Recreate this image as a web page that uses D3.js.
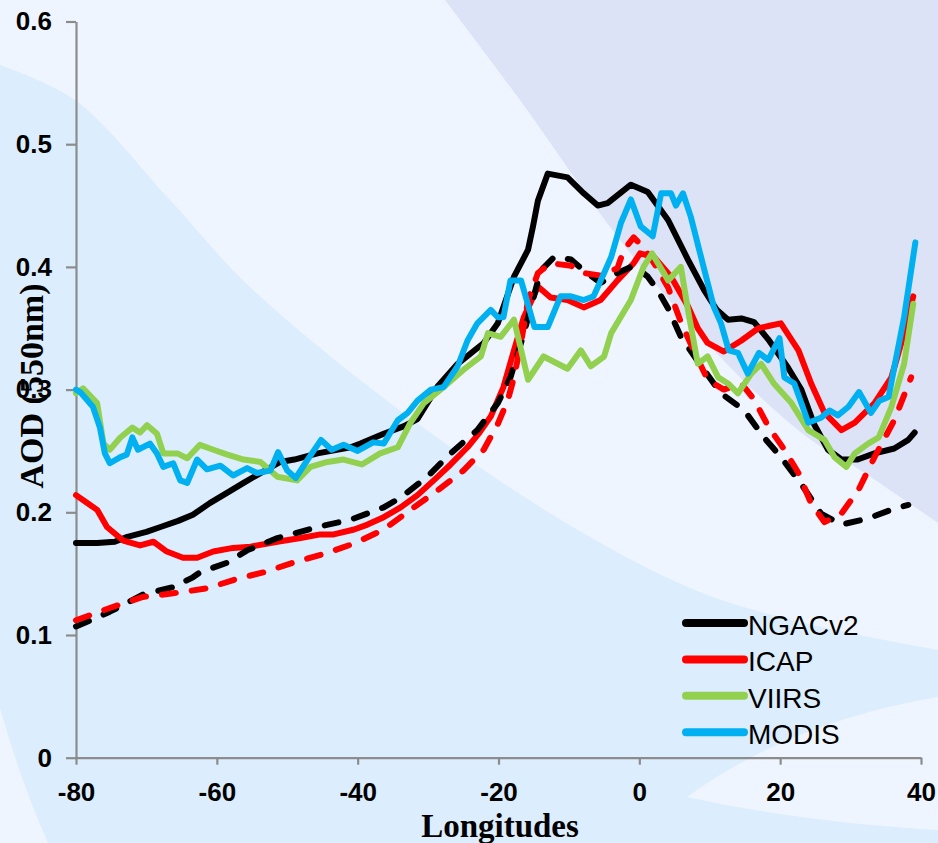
<!DOCTYPE html>
<html>
<head>
<meta charset="utf-8">
<script src="https://cdn.jsdelivr.net/npm/d3@7"></script>
<style>
  body { margin: 0; background: #eff5fe; }
  svg { display: block; }
</style>
</head>
<body>
<div id="chart"></div>
<script>
// longitude / AOD pairs
var ngacSolid = [[-80,0.175],[-77,0.175],[-74.5,0.176],[-72.7,0.180],[-70,0.184],[-68,0.188],[-65.5,0.193],[-63.4,0.198],[-61,0.2075],[-58.5,0.216],[-56.2,0.224],[-53.8,0.232],[-51,0.241],[-49,0.243],[-45.7,0.248],[-41,0.253],[-39.6,0.256],[-36.3,0.264],[-33.5,0.270],[-31.5,0.276],[-28.6,0.303],[-25.8,0.321],[-22.1,0.338],[-20.1,0.354],[-17.8,0.392],[-15.8,0.414],[-15.1,0.433],[-14.4,0.454],[-13,0.476],[-10.2,0.473],[-7.9,0.460],[-5.9,0.450],[-4.5,0.452],[-1.2,0.467],[1.2,0.461],[4.1,0.438],[6.9,0.406],[9.2,0.381],[11,0.365],[12.6,0.357],[14.5,0.358],[16.3,0.355],[18.3,0.341],[21.1,0.318],[23,0.300],[24.8,0.272],[26.8,0.251],[28.7,0.243],[31,0.243],[33.4,0.248],[36.2,0.252],[38.2,0.259],[39.1,0.265]];
var icapSolid = [[-80,0.214],[-78.5,0.208],[-77,0.202],[-75.6,0.188],[-73.3,0.177],[-70.9,0.173],[-69,0.176],[-67.1,0.168],[-64.8,0.163],[-62.8,0.163],[-60.5,0.168],[-57.7,0.171],[-55.2,0.172],[-51.4,0.176],[-48.1,0.179],[-45.3,0.182],[-43.4,0.182],[-40.5,0.186],[-38.6,0.190],[-36.3,0.196],[-33.9,0.204],[-31.5,0.214],[-29.2,0.226],[-26.8,0.239],[-24.4,0.253],[-22.7,0.265],[-21.1,0.278],[-19.3,0.302],[-17.8,0.332],[-16.4,0.359],[-14.4,0.384],[-12.6,0.375],[-10.2,0.373],[-7.9,0.367],[-5.5,0.373],[-3.1,0.389],[-0.8,0.403],[0.1,0.411],[2.1,0.408],[4.5,0.392],[6.9,0.368],[8.3,0.350],[9.7,0.338],[12,0.331],[14.5,0.340],[16.9,0.350],[18.5,0.352],[20.1,0.354],[22.6,0.332],[24.4,0.305],[26.3,0.281],[28.7,0.267],[30.6,0.273],[33.4,0.289],[35.8,0.310],[37.6,0.346],[38.9,0.376]];
var ngacDashed = [[-80,0.107],[-77.5,0.113],[-75.2,0.119],[-72.8,0.126],[-70.5,0.133],[-66.2,0.139],[-63.4,0.147],[-62.4,0.151],[-58.5,0.159],[-55.7,0.169],[-51.4,0.179],[-45.7,0.188],[-41,0.194],[-36.3,0.204],[-33.9,0.212],[-30.1,0.229],[-26.8,0.248],[-23,0.267],[-20.1,0.289],[-18.3,0.310],[-16.8,0.338],[-15.4,0.367],[-14,0.397],[-12.1,0.408],[-9.7,0.406],[-7.9,0.397],[-5.5,0.387],[-3.1,0.395],[-0.8,0.401],[1.2,0.392],[2.6,0.381],[4.1,0.366],[5.9,0.343],[8.8,0.319],[11.6,0.297],[14.9,0.283],[17.7,0.261],[20.1,0.245],[23,0.223],[25.8,0.199],[28.7,0.190],[32.5,0.195],[36.2,0.203],[38.2,0.206]];
var icapDashed = [[-80,0.112],[-75.2,0.122],[-70.5,0.131],[-66.2,0.134],[-61.4,0.138],[-57,0.146],[-53.4,0.151],[-49.1,0.159],[-44.3,0.167],[-40.3,0.175],[-36.3,0.186],[-32.5,0.202],[-28.6,0.218],[-25,0.234],[-22.1,0.251],[-20.1,0.272],[-18.7,0.291],[-17.8,0.310],[-16.8,0.338],[-15.8,0.373],[-14.4,0.395],[-12.6,0.403],[-9.7,0.401],[-7.9,0.395],[-5.5,0.393],[-3.1,0.399],[-2.2,0.414],[-0.8,0.424],[0.6,0.416],[2.1,0.403],[4.1,0.383],[5.9,0.355],[7.8,0.331],[9.7,0.308],[12,0.300],[14.5,0.305],[16.3,0.292],[18.3,0.270],[20.6,0.251],[22.6,0.232],[24.4,0.207],[26.3,0.192],[28.7,0.199],[31.1,0.218],[33.4,0.245],[36.2,0.275],[38.6,0.310]];
var viirs = [[-80,0.297],[-79,0.301],[-77,0.289],[-76.1,0.256],[-75.2,0.251],[-73.7,0.261],[-72,0.269],[-70.9,0.265],[-69.9,0.271],[-68.5,0.264],[-67.6,0.248],[-65.6,0.248],[-64.2,0.244],[-62.4,0.255],[-60.5,0.251],[-58.5,0.247],[-56.2,0.243],[-53.8,0.241],[-51.4,0.229],[-48.6,0.226],[-46.7,0.237],[-44.3,0.241],[-42,0.243],[-39.4,0.239],[-36.8,0.248],[-34.3,0.253],[-32.5,0.273],[-30.6,0.289],[-27.8,0.302],[-25,0.316],[-22.5,0.327],[-21.5,0.346],[-19.7,0.343],[-17.8,0.357],[-15.8,0.308],[-13.6,0.327],[-10.2,0.317],[-8.3,0.332],[-6.9,0.319],[-5,0.327],[-4,0.346],[-1.2,0.373],[0.6,0.400],[1.8,0.411],[4.1,0.389],[5.9,0.400],[6.9,0.365],[8.3,0.321],[9.7,0.327],[11.2,0.310],[12.6,0.305],[14,0.297],[15.9,0.313],[17.3,0.321],[19.1,0.305],[21.6,0.289],[24,0.267],[26.3,0.259],[27.7,0.245],[29.4,0.237],[30.6,0.248],[32.5,0.256],[34,0.261],[35.8,0.286],[37.6,0.321],[38.9,0.370]];
var modis = [[-80,0.300],[-79.4,0.298],[-77.6,0.286],[-76.6,0.269],[-75.9,0.248],[-75.2,0.240],[-73.7,0.245],[-72.8,0.247],[-72,0.261],[-71.2,0.251],[-69.5,0.256],[-68.5,0.248],[-67.6,0.237],[-66.2,0.240],[-65.2,0.226],[-64.2,0.224],[-62.8,0.243],[-61.4,0.235],[-59.5,0.238],[-57.7,0.230],[-55.7,0.236],[-54.3,0.232],[-52.4,0.234],[-51.3,0.249],[-50,0.234],[-48.8,0.228],[-47.1,0.243],[-45.2,0.259],[-43.7,0.251],[-42,0.255],[-40,0.250],[-37.8,0.257],[-36.3,0.256],[-34.3,0.275],[-32.9,0.281],[-31.5,0.291],[-29.6,0.300],[-27.8,0.302],[-25.8,0.319],[-24.4,0.340],[-23,0.354],[-21.1,0.365],[-20.1,0.359],[-19.3,0.359],[-18.3,0.389],[-16.8,0.389],[-14.9,0.351],[-13,0.351],[-11.2,0.376],[-9.7,0.376],[-7.9,0.373],[-6.5,0.376],[-5,0.395],[-4,0.408],[-2.6,0.436],[-1.2,0.455],[0.2,0.433],[1.9,0.425],[3.1,0.460],[4.5,0.460],[5.2,0.450],[6.2,0.460],[7.3,0.441],[8.5,0.414],[9.7,0.387],[10.6,0.367],[11.6,0.354],[12.7,0.332],[14,0.330],[15.4,0.313],[17,0.330],[18.3,0.324],[19.9,0.342],[20.6,0.310],[22,0.305],[23,0.289],[24,0.273],[25.8,0.277],[27,0.283],[28.2,0.279],[29.7,0.286],[31.2,0.298],[32.9,0.281],[34.1,0.291],[35.4,0.294],[36.2,0.318],[37.6,0.359],[39.2,0.420]];

var xTicks = [-80, -60, -40, -20, 0, 20, 40];
var yTicks = [0, 0.1, 0.2, 0.3, 0.4, 0.5, 0.6];
var legendNames = ["NGACv2", "ICAP", "VIIRS", "MODIS"];
var legendColors = ["#000000", "#ff0000", "#92d050", "#00b0f0"];

var W = 938, H = 843;

var svg = d3.select('#chart').append('svg')
    .attr("width", W)
    .attr("height", H);

// slide background
svg.append("rect").attr("width", W).attr("height", H).attr("fill", "#eff5fe");

var bgCurve = d3.line().curve(d3.curveCatmullRom);

// light blue sweep on the lower left
var blueEdge = [[0,65],[75,100],[170,200],[250,287],[417,423],[583,533],[700,592],[800,622],[938,650]];
svg.append("path")
    .attr("d", bgCurve(blueEdge) + "L938,843L0,843Z")
    .attr("fill", "#dcedfd");

// lavender band top right
var purpleEdge = [[445,0],[520,100],[620,240],[723,360],[807,437],[860,470],[938,523]];
svg.append("path")
    .attr("d", bgCurve(purpleEdge) + "L938,0Z")
    .attr("fill", "#dde3f7");

// white swooshes
svg.append("path")
    .attr("d", "M0,708 Q20,780 48,843 L0,843Z")
    .attr("fill", "#eff5fe");
svg.append("path")
    .attr("d", "M687,797 Q790,722 938,697 L938,830 Q800,822 687,797Z")
    .attr("fill", "#eff5fe");

// scales
var x = d3.scaleLinear().domain([-80, 40]).range([76, 921]);
var y = d3.scaleLinear().domain([0, 0.6]).range([757.7, 21.5]);

// axes
var yAxis = svg.append("g")
    .attr("transform", "translate(" + x(-80) + ",0)")
    .call(d3.axisLeft(y).tickValues(yTicks).tickSize(10).tickSizeOuter(0).tickPadding(14)
        .tickFormat(function(d) { return d === 0 ? "0" : d.toFixed(1); }));

var xAxis = svg.append("g")
    .attr("transform", "translate(0," + y(0) + ")")
    .call(d3.axisBottom(x).tickValues(xTicks).tickSize(7).tickSizeOuter(0).tickPadding(18)
        .tickFormat(function(d) { return String(d); }));

[xAxis, yAxis].forEach(function(g) {
    g.select(".domain").attr("stroke", "#8c8c8c").attr("stroke-width", 2.2);
    g.selectAll(".tick line").attr("stroke", "#8c8c8c").attr("stroke-width", 2.2);
    g.selectAll(".tick text")
        .attr("font-family", "Arial, 'Liberation Sans', sans-serif")
        .attr("font-weight", "bold")
        .attr("font-size", "26px")
        .attr("fill", "#000");
});

// axis titles
svg.append("text")
    .attr("x", 500).attr("y", 837)
    .attr("text-anchor", "middle")
    .attr("font-family", "'Times New Roman', 'Liberation Serif', serif")
    .attr("font-weight", "bold")
    .attr("font-size", "33px")
    .text("Longitudes");

svg.append("text")
    .attr("transform", "translate(43,386) rotate(-90)")
    .attr("text-anchor", "middle")
    .attr("font-family", "'Times New Roman', 'Liberation Serif', serif")
    .attr("font-weight", "bold")
    .attr("font-size", "34px")
    .text("AOD (550nm)");

// series lines
var line = d3.line()
    .x(function(d) { return x(d[0]); })
    .y(function(d) { return y(d[1]); });

var series = [
    { data: ngacSolid, color: legendColors[0], dash: null },
    { data: icapSolid, color: legendColors[1], dash: null },
    { data: ngacDashed, color: legendColors[0], dash: "14,16" },
    { data: icapDashed, color: legendColors[1], dash: "14,16" },
    { data: viirs, color: legendColors[2], dash: null },
    { data: modis, color: legendColors[3], dash: null }
];

svg.append("g").selectAll("path")
    .data(series)
    .enter().append("path")
    .attr("d", function(d) { return line(d.data); })
    .attr("fill", "none")
    .attr("stroke", function(d) { return d.color; })
    .attr("stroke-width", 6)
    .attr("stroke-linejoin", "round")
    .attr("stroke-linecap", "round")
    .attr("stroke-dasharray", function(d) { return d.dash; });

// legend
var legend = svg.append("g").selectAll("g")
    .data(legendNames)
    .enter().append("g")
    .attr("transform", function(d, i) { return "translate(686," + (623 + i * 36.4) + ")"; });

legend.append("line")
    .attr("x1", 0).attr("x2", 58)
    .attr("stroke", function(d, i) { return legendColors[i]; })
    .attr("stroke-width", 8)
    .attr("stroke-linecap", "round");

legend.append("text")
    .attr("x", 62).attr("y", 12)
    .attr("font-family", "Arial, 'Liberation Sans', sans-serif")
    .attr("font-size", "28px")
    .attr("fill", "#000")
    .text(function(d) { return d; });
</script>
</body>
</html>
